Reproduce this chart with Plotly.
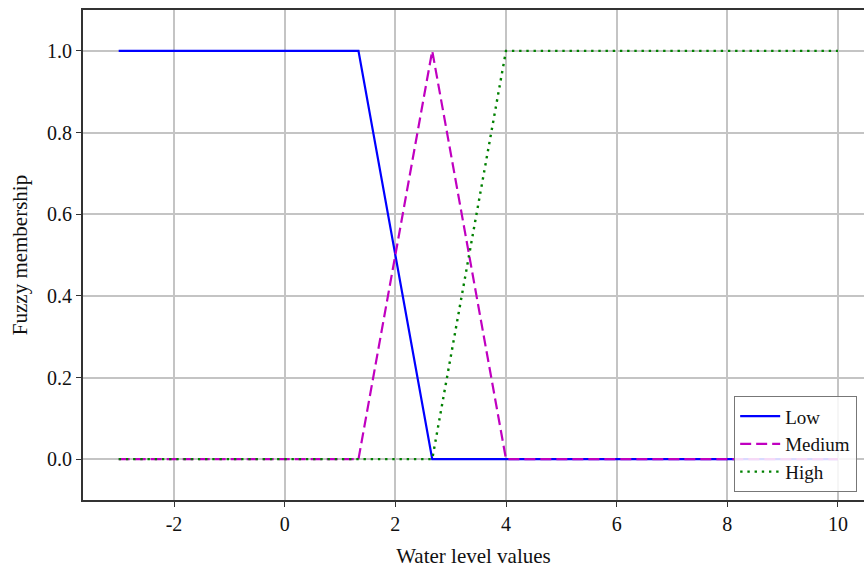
import plotly.graph_objects as go

x_pts = [-3, 4/3, 8/3, 4, 10]
low = [1, 1, 0, 0, 0]
medium = [0, 0, 1, 0, 0]
high = [0, 0, 0, 1, 1]

x_ticks = [-2, 0, 2, 4, 6, 8, 10]
x_tick_labels = ["-2", "0", "2", "4", "6", "8", "10"]
y_ticks = [0.0, 0.2, 0.4, 0.6, 0.8, 1.0]
y_tick_labels = ["0.0", "0.2", "0.4", "0.6", "0.8", "1.0"]

font = "Liberation Serif, Times New Roman, serif"

fig = go.Figure()
fig.add_trace(go.Scatter(x=x_pts, y=low, mode="lines", name="Low",
                         line=dict(color="#0000ff", width=2.2)))
fig.add_trace(go.Scatter(x=x_pts, y=medium, mode="lines", name="Medium",
                         line=dict(color="#c000c0", width=2.2, dash="11px,5px")))
fig.add_trace(go.Scatter(x=x_pts, y=high, mode="lines", name="High",
                         line=dict(color="#008000", width=2.4, dash="2.4px,4.8px")))

axis_common = dict(showgrid=True, gridcolor="#c4c4c4", gridwidth=1.5,
                   zeroline=False, showline=True, linecolor="#333333", linewidth=1.8,
                   ticks="outside", ticklen=5, tickwidth=1.2, tickcolor="#333333",
                   tickfont=dict(family=font, size=20, color="#111111"))

fig.update_layout(
    width=864, height=571,
    margin=dict(l=83, r=0, t=10, b=71),
    plot_bgcolor="white", paper_bgcolor="white",
    font=dict(family=font, size=20, color="#111111"),
    xaxis=dict(range=[-3.645, 10.47], tickvals=x_ticks, ticktext=x_tick_labels,
               mirror=True, title=dict(text="Water level values",
                                       font=dict(family=font, size=21), standoff=14),
               **axis_common),
    yaxis=dict(range=[-0.1, 1.1], tickvals=y_ticks, ticktext=y_tick_labels,
               title=dict(text="Fuzzy membership", font=dict(family=font, size=21), standoff=14),
               **axis_common),
    legend=dict(x=0.991, y=0.016, xanchor="right", yanchor="bottom",
                bgcolor="rgba(255,255,255,0.85)", bordercolor="#777777", borderwidth=1.2,
                font=dict(family=font, size=19), tracegroupgap=0,
                itemwidth=40),
    showlegend=True,
)

fig.write_html("out.html")
